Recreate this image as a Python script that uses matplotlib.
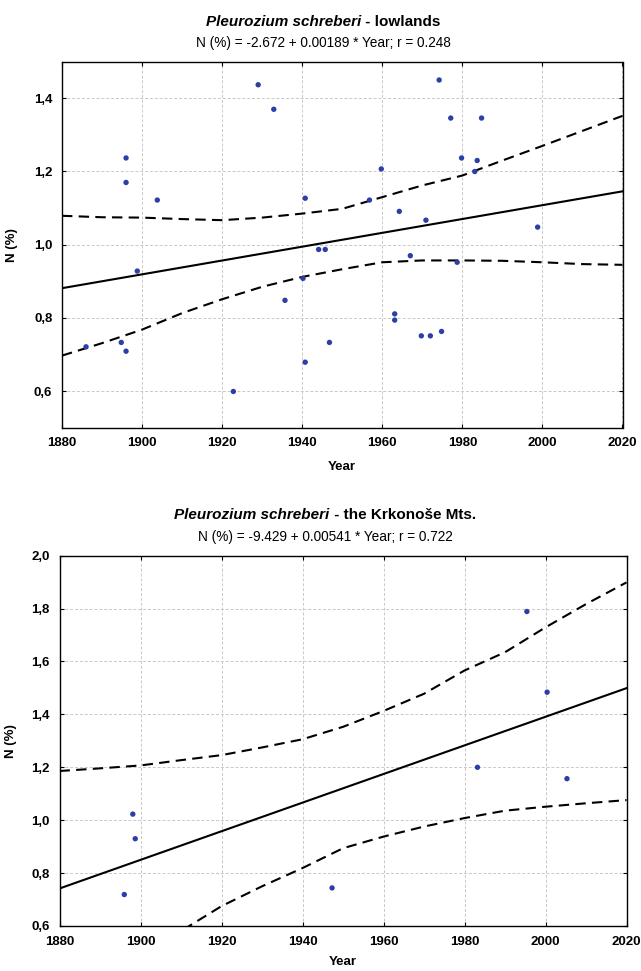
import matplotlib
matplotlib.use('Agg')
import matplotlib.pyplot as plt
import numpy as np
from matplotlib.ticker import FixedLocator, FuncFormatter

# ---------------- data ----------------
# Lowlands
low_years = [1886, 1894.8, 1896, 1896, 1896, 1898.8, 1903.8, 1922.8, 1929, 1932.9,
             1935.7, 1940.2, 1940.75, 1940.75, 1944.1, 1945.75, 1946.8, 1956.8, 1959.75,
             1963.1, 1963.1, 1964.25, 1967, 1969.75, 1970.9, 1972, 1974.2, 1974.8,
             1977.1, 1978.7, 1979.8, 1983.1, 1983.7, 1984.8, 1998.8]
low_n = [0.721, 0.733, 0.709, 1.237, 1.170, 0.928, 1.122, 0.599, 1.437, 1.370,
         0.848, 0.908, 1.127, 0.679, 0.987, 0.987, 0.733, 1.122, 1.207,
         0.811, 0.794, 1.091, 0.970, 0.751, 1.067, 0.751, 1.450, 0.763,
         1.346, 0.952, 1.237, 1.200, 1.230, 1.346, 1.048]
low_intercept, low_slope, low_r = -2.672, 0.00189, 0.248
low_band_years = [1880, 1890, 1900, 1910, 1920, 1930, 1940, 1950, 1960, 1970, 1980, 1990, 2000, 2010, 2020]
low_band_upper = [1.079, 1.075, 1.074, 1.070, 1.067, 1.074, 1.085, 1.098, 1.130, 1.162, 1.189, 1.230, 1.270, 1.311, 1.352]
low_band_lower = [0.697, 0.731, 0.768, 0.813, 0.851, 0.885, 0.912, 0.933, 0.952, 0.957, 0.957, 0.956, 0.952, 0.947, 0.945]

# Krkonose Mts.
krk_years = [1896.0, 1898.1, 1898.7, 1947.3, 1983.2, 1995.4, 2000.4, 2005.3]
krk_n = [0.719, 1.023, 0.930, 0.744, 1.200, 1.789, 1.484, 1.157]
krk_intercept, krk_slope, krk_r = -9.429, 0.00541, 0.722
krk_band_years = [1880, 1890, 1900, 1910, 1920, 1930, 1940, 1950, 1960, 1970, 1980, 1990, 2000, 2010, 2020]
krk_band_upper = [1.186, 1.196, 1.207, 1.227, 1.246, 1.275, 1.306, 1.353, 1.413, 1.478, 1.566, 1.635, 1.729, 1.817, 1.899]
krk_band_lower = [0.30, 0.40, 0.493, 0.581, 0.675, 0.750, 0.819, 0.894, 0.938, 0.976, 1.008, 1.036, 1.051, 1.064, 1.076]

x_ticks = [1880, 1900, 1920, 1940, 1960, 1980, 2000, 2020]
low_y_ticks = [0.6, 0.8, 1.0, 1.2, 1.4]
krk_y_ticks = [0.6, 0.8, 1.0, 1.2, 1.4, 1.6, 1.8, 2.0]

# ---------------- style ----------------
FONT = ['Liberation Sans', 'DejaVu Sans']
DOT = '#2b3fa6'

fig = plt.figure(figsize=(6.41, 9.71), dpi=100)
W, H = 641, 971

def ax_rect(l, r, t, b):
    return [l / W, 1 - b / H, (r - l) / W, (b - t) / H]

ax1 = fig.add_axes(ax_rect(62, 622.5, 61.7, 427.7))
ax2 = fig.add_axes(ax_rect(59.5, 626.5, 555.7, 926))

comma = FuncFormatter(lambda v, p: f"{v:.1f}".replace('.', ','))

def style(ax, ylim, yticks):
    ax.set_xlim(1880, 2020)
    ax.set_ylim(*ylim)
    ax.xaxis.set_major_locator(FixedLocator(x_ticks))
    ax.yaxis.set_major_locator(FixedLocator(yticks))
    ax.yaxis.set_major_formatter(comma)
    ax.grid(True, color='#c8c8c8', linestyle=(0, (3, 2)), linewidth=0.7)
    ax.set_axisbelow(True)
    ax.tick_params(direction='in', length=3, width=0.8, top=True, right=True,
                   labelsize=9.5, pad=7, colors='black')
    for lab in ax.get_xticklabels() + ax.get_yticklabels():
        lab.set_family(FONT)
        lab.set_fontweight('bold')
    for s in ax.spines.values():
        s.set_linewidth(1.0)
        s.set_color('black')
    ax.set_ylabel('N (%)', family=FONT, fontweight='bold', fontsize=9.5)

def draw(ax, years, n, b0, b1, by, bu, bl):
    xs = np.array(ax.get_xlim())
    ax.plot(xs, b0 + b1 * xs, color='black', lw=1.5, zorder=3)
    ax.plot(by, bu, color='black', lw=1.5, dashes=(5, 3), zorder=3)
    ax.plot(by, bl, color='black', lw=1.5, dashes=(5, 3), zorder=3)
    ax.scatter(years, n, s=15, color=DOT, edgecolors='none', zorder=4)

style(ax1, (0.5, 1.5), low_y_ticks)
style(ax2, (0.6, 2.0), krk_y_ticks)
draw(ax1, low_years, low_n, low_intercept, low_slope, low_band_years, low_band_upper, low_band_lower)
draw(ax2, krk_years, krk_n, krk_intercept, krk_slope, krk_band_years, krk_band_upper, krk_band_lower)

ax1.yaxis.set_label_coords(-44 / 560.5, 0.5)
ax2.yaxis.set_label_coords(-43 / 567, 0.5)

# x labels placed at measured positions
fig.text(342 / W, 1 - 467 / H, 'Year', family=FONT, fontweight='bold', fontsize=9.5,
         ha='center', va='center')
fig.text(343 / W, 1 - 962 / H, 'Year', family=FONT, fontweight='bold', fontsize=9.5,
         ha='center', va='center')

# ---------------- titles ----------------
fig.canvas.draw()
renderer = fig.canvas.get_renderer()

def title(y_px, rest, sub_y_px, subtitle, cx=323.5):
    y = 1 - y_px / H
    t1 = fig.text(0, y, 'Pleurozium schreberi', family=FONT, fontweight='bold',
                  style='italic', fontsize=11, va='center', ha='left')
    t2 = fig.text(0, y, rest, family=FONT, fontweight='bold', fontsize=11,
                  va='center', ha='left')
    w1 = t1.get_window_extent(renderer).width
    w2 = t2.get_window_extent(renderer).width
    x0 = cx - (w1 + w2) / 2
    t1.set_x(x0 / W)
    t2.set_x((x0 + w1) / W)
    fig.text(cx / W, 1 - sub_y_px / H, subtitle, family=FONT, fontsize=9.8,
             va='center', ha='center')

title(21.7, ' - lowlands', 43.3,
      f"N (%) = {low_intercept} + {low_slope} * Year; r = {low_r}")
title(515, ' - the Krkonoše Mts.', 536.5,
      f"N (%) = {krk_intercept} + {krk_slope} * Year; r = {krk_r}", cx=325)

fig.savefig('out.png', dpi=100)
